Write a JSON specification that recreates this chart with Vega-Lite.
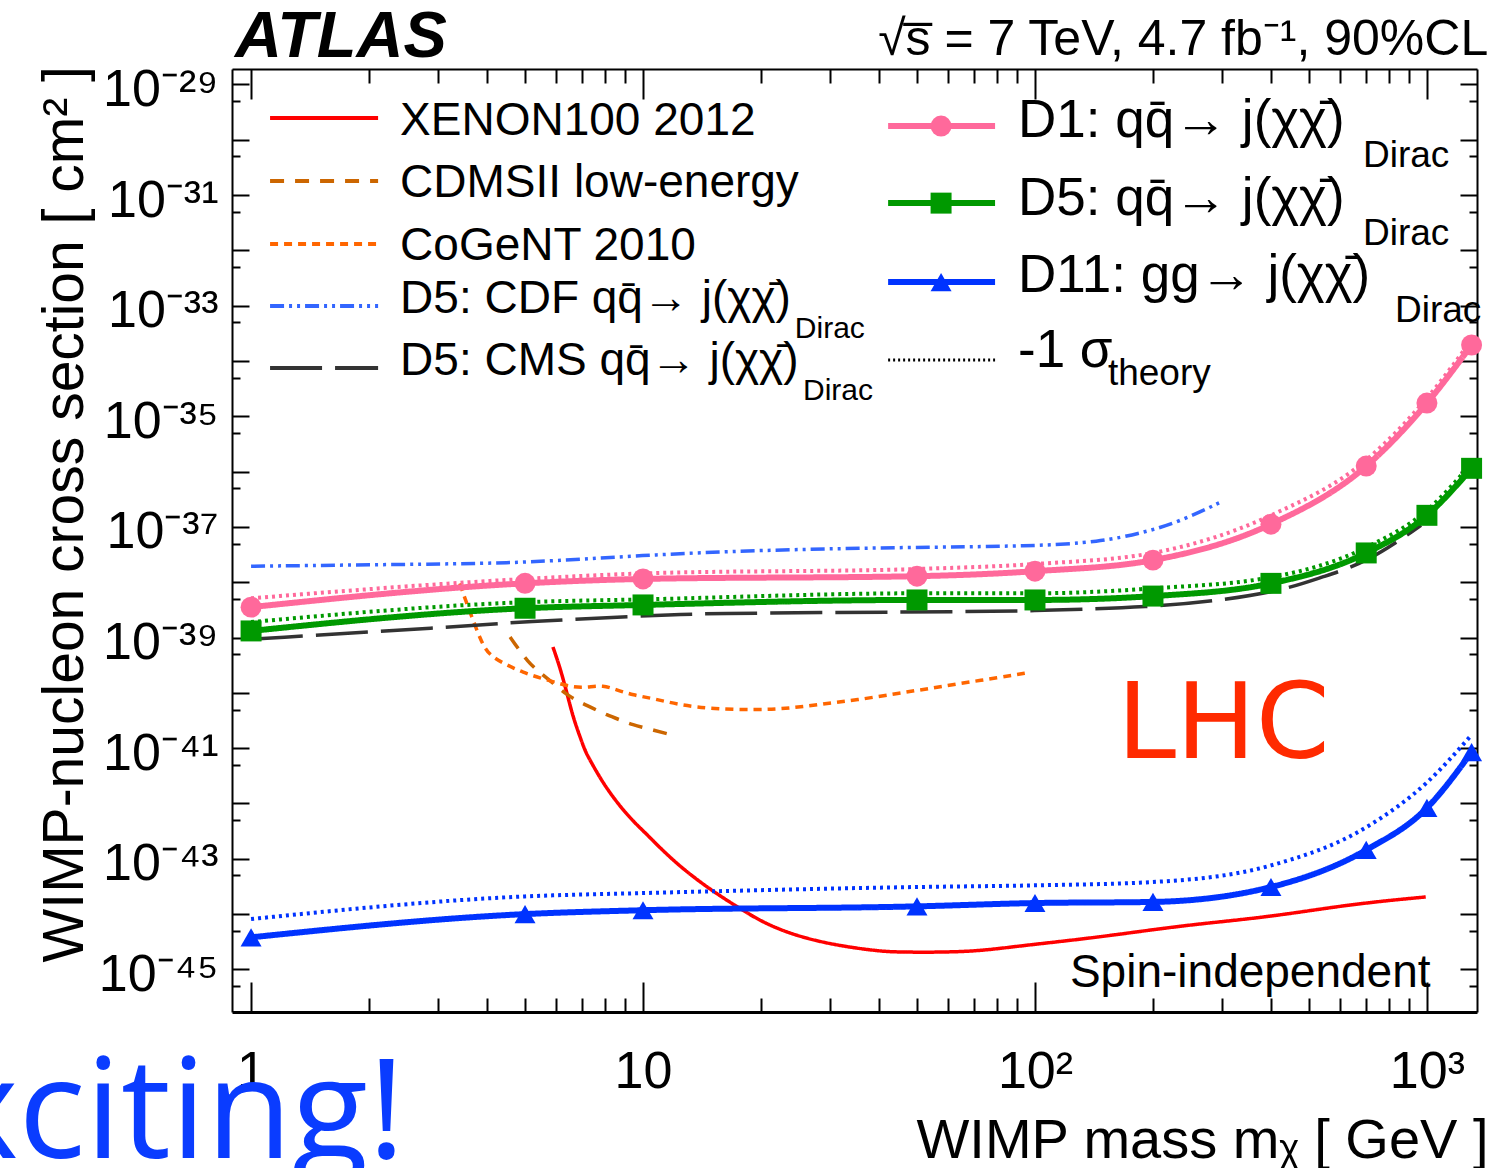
{
"$schema": "https://vega.github.io/schema/vega-lite/v6.json",
"width": 1245,
"height": 943,
"autosize": {"type": "none"},
"padding": {"left": 232, "top": 69, "right": 27, "bottom": 156},
"background": "white",
"config": {"view": {"stroke": null}, "text": {"font": "Liberation Sans"}},
"datasets": {
"curves": [
{"series": "XENON100 2012", "kind": "ext", "m": 5.89, "s": 6.76e-40},
{"series": "XENON100 2012", "kind": "ext", "m": 6.14, "s": 2.884e-40},
{"series": "XENON100 2012", "kind": "ext", "m": 6.40, "s": 9.77e-41},
{"series": "XENON100 2012", "kind": "ext", "m": 6.63, "s": 3.631e-41},
{"series": "XENON100 2012", "kind": "ext", "m": 6.91, "s": 1.585e-41},
{"series": "XENON100 2012", "kind": "ext", "m": 7.11, "s": 9.12e-42},
{"series": "XENON100 2012", "kind": "ext", "m": 7.25, "s": 6.92e-42},
{"series": "XENON100 2012", "kind": "ext", "m": 7.77, "s": 2.88e-42},
{"series": "XENON100 2012", "kind": "ext", "m": 8.24, "s": 1.549e-42},
{"series": "XENON100 2012", "kind": "ext", "m": 8.74, "s": 8.91e-43},
{"series": "XENON100 2012", "kind": "ext", "m": 9.43, "s": 4.79e-43},
{"series": "XENON100 2012", "kind": "ext", "m": 10.2, "s": 2.82e-43},
{"series": "XENON100 2012", "kind": "ext", "m": 11.9, "s": 9.33e-44},
{"series": "XENON100 2012", "kind": "ext", "m": 14.3, "s": 3.31e-44},
{"series": "XENON100 2012", "kind": "ext", "m": 17.3, "s": 1.38e-44},
{"series": "XENON100 2012", "kind": "ext", "m": 20.2, "s": 7.08e-45},
{"series": "XENON100 2012", "kind": "ext", "m": 24.2, "s": 4.17e-45},
{"series": "XENON100 2012", "kind": "ext", "m": 30.7, "s": 2.754e-45},
{"series": "XENON100 2012", "kind": "ext", "m": 39.9, "s": 2.138e-45},
{"series": "XENON100 2012", "kind": "ext", "m": 45, "s": 2.042e-45},
{"series": "XENON100 2012", "kind": "ext", "m": 68.6, "s": 2.042e-45},
{"series": "XENON100 2012", "kind": "ext", "m": 89.7, "s": 2.63e-45},
{"series": "XENON100 2012", "kind": "ext", "m": 146, "s": 3.802e-45},
{"series": "XENON100 2012", "kind": "ext", "m": 239, "s": 6.31e-45},
{"series": "XENON100 2012", "kind": "ext", "m": 392, "s": 8.71e-45},
{"series": "XENON100 2012", "kind": "ext", "m": 638, "s": 1.514e-44},
{"series": "XENON100 2012", "kind": "ext", "m": 993, "s": 2.042e-44},
{"series": "CDMSII low-energy", "kind": "ext", "m": 4.58, "s": 1.023e-39},
{"series": "CDMSII low-energy", "kind": "ext", "m": 4.77, "s": 6.76e-40},
{"series": "CDMSII low-energy", "kind": "ext", "m": 5.09, "s": 3.631e-40},
{"series": "CDMSII low-energy", "kind": "ext", "m": 5.37, "s": 2.57e-40},
{"series": "CDMSII low-energy", "kind": "ext", "m": 5.86, "s": 1.549e-40},
{"series": "CDMSII low-energy", "kind": "ext", "m": 6.40, "s": 9.12e-41},
{"series": "CDMSII low-energy", "kind": "ext", "m": 6.91, "s": 6.76e-41},
{"series": "CDMSII low-energy", "kind": "ext", "m": 7.45, "s": 5.25e-41},
{"series": "CDMSII low-energy", "kind": "ext", "m": 8.09, "s": 3.98e-41},
{"series": "CDMSII low-energy", "kind": "ext", "m": 8.74, "s": 3.236e-41},
{"series": "CDMSII low-energy", "kind": "ext", "m": 9.43, "s": 2.63e-41},
{"series": "CDMSII low-energy", "kind": "ext", "m": 10.2, "s": 2.291e-41},
{"series": "CDMSII low-energy", "kind": "ext", "m": 11.7, "s": 1.778e-41},
{"series": "CoGeNT 2010", "kind": "ext", "m": 3.41, "s": 9.55e-39},
{"series": "CoGeNT 2010", "kind": "ext", "m": 3.51, "s": 5.13e-39},
{"series": "CoGeNT 2010", "kind": "ext", "m": 3.66, "s": 2.344e-39},
{"series": "CoGeNT 2010", "kind": "ext", "m": 3.91, "s": 6.76e-40},
{"series": "CoGeNT 2010", "kind": "ext", "m": 4.12, "s": 4.467e-40},
{"series": "CoGeNT 2010", "kind": "ext", "m": 4.50, "s": 3.162e-40},
{"series": "CoGeNT 2010", "kind": "ext", "m": 4.94, "s": 2.344e-40},
{"series": "CoGeNT 2010", "kind": "ext", "m": 5.46, "s": 1.862e-40},
{"series": "CoGeNT 2010", "kind": "ext", "m": 6.04, "s": 1.514e-40},
{"series": "CoGeNT 2010", "kind": "ext", "m": 6.63, "s": 1.259e-40},
{"series": "CoGeNT 2010", "kind": "ext", "m": 7.20, "s": 1.259e-40},
{"series": "CoGeNT 2010", "kind": "ext", "m": 7.91, "s": 1.38e-40},
{"series": "CoGeNT 2010", "kind": "ext", "m": 8.59, "s": 1.122e-40},
{"series": "CoGeNT 2010", "kind": "ext", "m": 9.43, "s": 9.12e-41},
{"series": "CoGeNT 2010", "kind": "ext", "m": 10.6, "s": 7.94e-41},
{"series": "CoGeNT 2010", "kind": "ext", "m": 12.4, "s": 6.03e-41},
{"series": "CoGeNT 2010", "kind": "ext", "m": 15.1, "s": 5.13e-41},
{"series": "CoGeNT 2010", "kind": "ext", "m": 19.5, "s": 4.9e-41},
{"series": "CoGeNT 2010", "kind": "ext", "m": 23.7, "s": 5.25e-41},
{"series": "CoGeNT 2010", "kind": "ext", "m": 28.8, "s": 6.31e-41},
{"series": "CoGeNT 2010", "kind": "ext", "m": 35.1, "s": 7.41e-41},
{"series": "CoGeNT 2010", "kind": "ext", "m": 44.5, "s": 9.77e-41},
{"series": "CoGeNT 2010", "kind": "ext", "m": 54.0, "s": 1.202e-40},
{"series": "CoGeNT 2010", "kind": "ext", "m": 65.5, "s": 1.514e-40},
{"series": "CoGeNT 2010", "kind": "ext", "m": 80.0, "s": 1.862e-40},
{"series": "CoGeNT 2010", "kind": "ext", "m": 97.1, "s": 2.344e-40},
{"series": "D5 CDF", "kind": "ext", "m": 1, "s": 1.95e-38},
{"series": "D5 CDF", "kind": "ext", "m": 3, "s": 2.138e-38},
{"series": "D5 CDF", "kind": "ext", "m": 5, "s": 2.239e-38},
{"series": "D5 CDF", "kind": "ext", "m": 10, "s": 3.09e-38},
{"series": "D5 CDF", "kind": "ext", "m": 19.6, "s": 3.8e-38},
{"series": "D5 CDF", "kind": "ext", "m": 45, "s": 4.266e-38},
{"series": "D5 CDF", "kind": "ext", "m": 100, "s": 4.467e-38},
{"series": "D5 CDF", "kind": "ext", "m": 146.5, "s": 5.37e-38},
{"series": "D5 CDF", "kind": "ext", "m": 187.5, "s": 7.762e-38},
{"series": "D5 CDF", "kind": "ext", "m": 233, "s": 1.23e-37},
{"series": "D5 CDF", "kind": "ext", "m": 298, "s": 2.818e-37},
{"series": "D5 CMS", "kind": "ext", "m": 1, "s": 9.33e-40},
{"series": "D5 CMS", "kind": "ext", "m": 3.25, "s": 1.549e-39},
{"series": "D5 CMS", "kind": "ext", "m": 5, "s": 1.95e-39},
{"series": "D5 CMS", "kind": "ext", "m": 10, "s": 2.455e-39},
{"series": "D5 CMS", "kind": "ext", "m": 14, "s": 2.754e-39},
{"series": "D5 CMS", "kind": "ext", "m": 50, "s": 2.884e-39},
{"series": "D5 CMS", "kind": "ext", "m": 100, "s": 3.02e-39},
{"series": "D5 CMS", "kind": "ext", "m": 200, "s": 3.548e-39},
{"series": "D5 CMS", "kind": "ext", "m": 305, "s": 4.786e-39},
{"series": "D5 CMS", "kind": "ext", "m": 432, "s": 7.244e-39},
{"series": "D5 CMS", "kind": "ext", "m": 537, "s": 1.23e-38},
{"series": "D5 CMS", "kind": "ext", "m": 706, "s": 2.291e-38},
{"series": "D5 CMS", "kind": "ext", "m": 966, "s": 1.072e-37},
{"series": "D1", "kind": "atlas", "m": 1, "s": 3.55e-39},
{"series": "D1", "kind": "atlas", "m": 5, "s": 9.55e-39},
{"series": "D1", "kind": "atlas", "m": 10, "s": 1.148e-38},
{"series": "D1", "kind": "atlas", "m": 50, "s": 1.288e-38},
{"series": "D1", "kind": "atlas", "m": 100, "s": 1.585e-38},
{"series": "D1", "kind": "atlas", "m": 200, "s": 2.512e-38},
{"series": "D1", "kind": "atlas", "m": 400, "s": 1.122e-37},
{"series": "D1", "kind": "atlas", "m": 700, "s": 1.259e-36},
{"series": "D1", "kind": "atlas", "m": 1000, "s": 1.738e-35},
{"series": "D1", "kind": "atlas", "m": 1300, "s": 1.95e-34},
{"series": "D1 -1σ", "kind": "theory", "m": 1, "s": 5.13e-39},
{"series": "D1 -1σ", "kind": "theory", "m": 5, "s": 1.148e-38},
{"series": "D1 -1σ", "kind": "theory", "m": 10, "s": 1.445e-38},
{"series": "D1 -1σ", "kind": "theory", "m": 50, "s": 1.738e-38},
{"series": "D1 -1σ", "kind": "theory", "m": 100, "s": 2.138e-38},
{"series": "D1 -1σ", "kind": "theory", "m": 200, "s": 3.388e-38},
{"series": "D1 -1σ", "kind": "theory", "m": 400, "s": 1.622e-37},
{"series": "D1 -1σ", "kind": "theory", "m": 700, "s": 1.622e-36},
{"series": "D1 -1σ", "kind": "theory", "m": 1000, "s": 2.138e-35},
{"series": "D1 -1σ", "kind": "theory", "m": 1300, "s": 2.399e-34},
{"series": "D5", "kind": "atlas", "m": 1, "s": 1.318e-39},
{"series": "D5", "kind": "atlas", "m": 5, "s": 3.388e-39},
{"series": "D5", "kind": "atlas", "m": 10, "s": 3.89e-39},
{"series": "D5", "kind": "atlas", "m": 50, "s": 4.786e-39},
{"series": "D5", "kind": "atlas", "m": 100, "s": 4.786e-39},
{"series": "D5", "kind": "atlas", "m": 200, "s": 5.623e-39},
{"series": "D5", "kind": "atlas", "m": 400, "s": 9.55e-39},
{"series": "D5", "kind": "atlas", "m": 700, "s": 3.388e-38},
{"series": "D5", "kind": "atlas", "m": 1000, "s": 1.622e-37},
{"series": "D5", "kind": "atlas", "m": 1300, "s": 1.148e-36},
{"series": "D5 -1σ", "kind": "theory", "m": 1, "s": 1.905e-39},
{"series": "D5 -1σ", "kind": "theory", "m": 5, "s": 4.365e-39},
{"series": "D5 -1σ", "kind": "theory", "m": 10, "s": 4.898e-39},
{"series": "D5 -1σ", "kind": "theory", "m": 50, "s": 6.31e-39},
{"series": "D5 -1σ", "kind": "theory", "m": 100, "s": 6.31e-39},
{"series": "D5 -1σ", "kind": "theory", "m": 200, "s": 7.762e-39},
{"series": "D5 -1σ", "kind": "theory", "m": 400, "s": 1.23e-38},
{"series": "D5 -1σ", "kind": "theory", "m": 700, "s": 4.266e-38},
{"series": "D5 -1σ", "kind": "theory", "m": 1000, "s": 1.995e-37},
{"series": "D5 -1σ", "kind": "theory", "m": 1300, "s": 1.413e-36},
{"series": "D11", "kind": "atlas", "m": 1, "s": 3.8e-45},
{"series": "D11", "kind": "atlas", "m": 5, "s": 1.0e-44},
{"series": "D11", "kind": "atlas", "m": 10, "s": 1.175e-44},
{"series": "D11", "kind": "atlas", "m": 50, "s": 1.38e-44},
{"series": "D11", "kind": "atlas", "m": 100, "s": 1.585e-44},
{"series": "D11", "kind": "atlas", "m": 200, "s": 1.66e-44},
{"series": "D11", "kind": "atlas", "m": 400, "s": 3.09e-44},
{"series": "D11", "kind": "atlas", "m": 700, "s": 1.445e-43},
{"series": "D11", "kind": "atlas", "m": 1000, "s": 8.318e-43},
{"series": "D11", "kind": "atlas", "m": 1300, "s": 8.511e-42},
{"series": "D11 -1σ", "kind": "theory", "m": 1, "s": 8.128e-45},
{"series": "D11 -1σ", "kind": "theory", "m": 5, "s": 2.089e-44},
{"series": "D11 -1σ", "kind": "theory", "m": 10, "s": 2.399e-44},
{"series": "D11 -1σ", "kind": "theory", "m": 50, "s": 3.09e-44},
{"series": "D11 -1σ", "kind": "theory", "m": 100, "s": 3.311e-44},
{"series": "D11 -1σ", "kind": "theory", "m": 200, "s": 3.802e-44},
{"series": "D11 -1σ", "kind": "theory", "m": 400, "s": 7.586e-44},
{"series": "D11 -1σ", "kind": "theory", "m": 700, "s": 3.715e-43},
{"series": "D11 -1σ", "kind": "theory", "m": 1000, "s": 2.399e-42},
{"series": "D11 -1σ", "kind": "theory", "m": 1300, "s": 1.738e-41}
],
"legend": [
{"series": "XENON100 2012", "col": "L", "label": "XENON100 2012", "sub": "", "m1": 1.118, "m2": 2.109, "mc": 1.54, "ml": 2.40, "s": 2.466e-30, "sl": 1.216e-30, "msub": 1, "ssub": 1e-30},
{"series": "CDMSII low-energy", "col": "L", "label": "CDMSII low-energy", "sub": "", "m1": 1.118, "m2": 2.109, "mc": 1.54, "ml": 2.40, "s": 1.79e-31, "sl": 9.2e-32, "msub": 1, "ssub": 1e-31},
{"series": "CoGeNT 2010", "col": "L", "label": "CoGeNT 2010", "sub": "", "m1": 1.118, "m2": 2.109, "mc": 1.54, "ml": 2.40, "s": 1.3e-32, "sl": 6.68e-33, "msub": 1, "ssub": 1e-32},
{"series": "D5 CDF", "col": "L", "label": "D5: CDF qq̄→ j(χχ̄)", "sub": "Dirac", "m1": 1.118, "m2": 2.109, "mc": 1.54, "ml": 2.40, "s": 9.84e-34, "sl": 7.34e-34, "msub": 24.4, "ssub": 2.594e-34},
{"series": "D5 CMS", "col": "L", "label": "D5: CMS qq̄→ j(χχ̄)", "sub": "Dirac", "m1": 1.118, "m2": 2.109, "mc": 1.54, "ml": 2.40, "s": 7.45e-35, "sl": 5.56e-35, "msub": 25.6, "ssub": 1.963e-35},
{"series": "D1", "col": "R", "label": "D1: qq̄→ j(χχ̄)", "sub": "Dirac", "m1": 42.2, "m2": 79.1, "mc": 57.6, "ml": 90.5, "s": 1.77e-30, "sl": 1.119e-30, "msub": 687, "ssub": 3.21e-31},
{"series": "D5", "col": "R", "label": "D5: qq̄→ j(χχ̄)", "sub": "Dirac", "m1": 42.2, "m2": 79.1, "mc": 57.6, "ml": 90.5, "s": 7.16e-32, "sl": 4.35e-32, "msub": 687, "ssub": 1.247e-32},
{"series": "D11", "col": "R", "label": "D11: gg→ j(χχ̄)", "sub": "Dirac", "m1": 42.2, "m2": 79.1, "mc": 57.6, "ml": 90.5, "s": 2.67e-33, "sl": 1.762e-33, "msub": 829, "ssub": 5.05e-34},
{"series": "-1σ theory", "col": "R", "label": "-1 σ", "sub": "theory", "m1": 42.2, "m2": 79.1, "mc": 57.6, "ml": 90.5, "s": 1.04e-34, "sl": 7.76e-35, "msub": 153.5, "ssub": 3.66e-35}
],
"notes": [
{"text": "ATLAS", "m": 0.91, "s": 3.126e-29},
{"text": "√s̅ = 7 TeV, 4.7 fb⁻¹, 90%CL", "m": 39.8, "s": 3.4e-29},
{"text": "LHC", "m": 161.9, "s": 6.59e-42},
{"text": "Spin-independent", "m": 122.8, "s": 4.76e-46},
{"text": "Exciting!", "m": 2.47, "s": 3.86e-49}
]
},
"resolve": {"axis": {"x": "independent", "y": "independent"}},
"layer": [
{
"data": {"name": "curves"},
"transform": [{"filter": "datum.kind == 'ext'"}],
"mark": {"type": "line", "strokeWidth": 3.5, "interpolate": "basis", "strokeCap": "butt"},
"encoding": {
"x": {"field": "m", "type": "quantitative", "scale": {"type": "log", "domain": [0.894, 1342], "nice": false},
"axis": {"orient": "bottom", "values": [1,2,3,4,5,6,7,8,9,10,20,30,40,50,60,70,80,90,100,200,300,400,500,600,700,800,900,1000],
"labelExpr": "datum.value == 1 ? '1' : datum.value == 10 ? '10' : datum.value == 100 ? '10²' : datum.value == 1000 ? '10³' : ''",
"tickSize": {"condition": {"test": "indexof([1,10,100,1000], datum.value) >= 0", "value": -30}, "value": -14},
"tickWidth": 2, "tickColor": "black", "domainColor": "black", "domainWidth": 3, "grid": false,
"labelFont": "Liberation Sans", "labelFontSize": 52, "labelColor": "black", "labelPadding": 64,
"labelOverlap": false, "labelFlush": false, "labelBound": false,
"title": "WIMP mass mᵪ [ GeV ]", "titleFont": "Liberation Sans", "titleFontSize": 56, "titleFontWeight": "normal", "titleColor": "black",
"titleAlign": "right", "titleAnchor": "end", "titleX": 1256, "titleY": 145, "titleBaseline": "alphabetic"}},
"y": {"field": "s", "type": "quantitative", "scale": {"type": "log", "domain": [1.698e-46, 1.905e-29], "nice": false},
"axis": {"orient": "left", "values": [1e-45,1e-44,1e-43,1e-42,1e-41,1e-40,1e-39,1e-38,1e-37,1e-36,1e-35,1e-34,1e-33,1e-32,1e-31,1e-30,1e-29,5e-46,5e-45,5e-44,5e-43,5e-42,5e-41,5e-40,5e-39,5e-38,5e-37,5e-36,5e-35,5e-34,5e-33,5e-32,5e-31,5e-30],
"labelExpr": "abs(log(datum.value)/LN10 - round(log(datum.value)/LN10)) > 0.01 ? '' : round(log(datum.value)/LN10) == -29 ? '10⁻²⁹' : round(log(datum.value)/LN10) == -31 ? '10⁻³¹' : round(log(datum.value)/LN10) == -33 ? '10⁻³³' : round(log(datum.value)/LN10) == -35 ? '10⁻³⁵' : round(log(datum.value)/LN10) == -37 ? '10⁻³⁷' : round(log(datum.value)/LN10) == -39 ? '10⁻³⁹' : round(log(datum.value)/LN10) == -41 ? '10⁻⁴¹' : round(log(datum.value)/LN10) == -43 ? '10⁻⁴³' : round(log(datum.value)/LN10) == -45 ? '10⁻⁴⁵' : ''",
"tickSize": {"condition": {"test": "abs(log(datum.value)/LN10 - round(log(datum.value)/LN10)) < 0.01", "value": -17}, "value": -8},
"tickWidth": 2, "tickColor": "black", "domainColor": "black", "domainWidth": 2, "grid": false,
"labelFont": "Liberation Sans", "labelFontSize": 52, "labelColor": "black", "labelPadding": 31, "labelOffset": 5,
"labelOverlap": false, "labelFlush": false, "labelBound": false,
"title": "WIMP-nucleon cross section [ cm² ]", "titleFont": "Liberation Sans", "titleFontSize": 57, "titleFontWeight": "normal", "titleColor": "black",
"titleAngle": 270, "titleAlign": "left", "titleBaseline": "alphabetic", "titleX": -150, "titleY": 893}},
"color": {"field": "series", "type": "nominal", "legend": null, "scale": {"domain": ["XENON100 2012","CDMSII low-energy","CoGeNT 2010","D5 CDF","D5 CMS","D1","D5","D11","D1 -1σ","D5 -1σ","D11 -1σ","-1σ theory"], "range": ["#ff0000","#cc6600","#ff6600","#3366ff","#333333","#ff699b","#009900","#0033ff","#ff699b","#009900","#0033ff","#000000"]}},
"strokeDash": {"field": "series", "type": "nominal", "legend": null, "scale": {"domain": ["XENON100 2012","CDMSII low-energy","CoGeNT 2010","D5 CDF","D5 CMS","D1","D5","D11","D1 -1σ","D5 -1σ","D11 -1σ","-1σ theory"], "range": [[1,0],[14,11],[8,6],[14,5,3,5,3,5],[52,13],[1,0],[1,0],[1,0],[3,4],[3,4],[3,4],[2,3]]}}
}
},
{
"data": {"name": "curves"},
"transform": [{"filter": "datum.kind == 'theory'"}],
"mark": {"type": "line", "strokeWidth": 4, "interpolate": "monotone", "strokeCap": "butt"},
"encoding": {
"x": {"field": "m", "type": "quantitative", "scale": {"type": "log", "domain": [0.894, 1342], "nice": false},
"axis": {"orient": "top", "values": [1,2,3,4,5,6,7,8,9,10,20,30,40,50,60,70,80,90,100,200,300,400,500,600,700,800,900,1000], "labels": false,
"tickSize": {"condition": {"test": "indexof([1,10,100,1000], datum.value) >= 0", "value": -30}, "value": -14},
"tickWidth": 2, "tickColor": "black", "domainColor": "black", "domainWidth": 2, "grid": false, "title": null}},
"y": {"field": "s", "type": "quantitative", "scale": {"type": "log", "domain": [1.698e-46, 1.905e-29], "nice": false},
"axis": {"orient": "right", "values": [1e-45,1e-44,1e-43,1e-42,1e-41,1e-40,1e-39,1e-38,1e-37,1e-36,1e-35,1e-34,1e-33,1e-32,1e-31,1e-30,1e-29,5e-46,5e-45,5e-44,5e-43,5e-42,5e-41,5e-40,5e-39,5e-38,5e-37,5e-36,5e-35,5e-34,5e-33,5e-32,5e-31,5e-30], "labels": false,
"tickSize": {"condition": {"test": "abs(log(datum.value)/LN10 - round(log(datum.value)/LN10)) < 0.01", "value": -17}, "value": -8},
"tickWidth": 2, "tickColor": "black", "domainColor": "black", "domainWidth": 2, "grid": false, "title": null}},
"color": {"field": "series", "type": "nominal", "legend": null},
"strokeDash": {"field": "series", "type": "nominal", "legend": null}
}
},
{
"data": {"name": "curves"},
"transform": [{"filter": "datum.kind == 'atlas'"}],
"mark": {"type": "line", "strokeWidth": 6, "interpolate": "monotone"},
"encoding": {
"x": {"field": "m", "type": "quantitative", "axis": null},
"y": {"field": "s", "type": "quantitative", "axis": null},
"color": {"field": "series", "type": "nominal", "legend": null},
"strokeDash": {"field": "series", "type": "nominal", "legend": null}
}
},
{
"data": {"name": "curves"},
"transform": [{"filter": "datum.kind == 'atlas'"}],
"mark": {"type": "point", "filled": true, "size": 440, "opacity": 1},
"encoding": {
"x": {"field": "m", "type": "quantitative", "axis": null},
"y": {"field": "s", "type": "quantitative", "axis": null},
"color": {"field": "series", "type": "nominal", "legend": null},
"shape": {"field": "series", "type": "nominal", "legend": null, "scale": {"domain": ["D1","D5","D11"], "range": ["circle","square","triangle-up"]}}
}
},
{
"data": {"name": "legend"},
"transform": [{"filter": "datum.col == 'L'"}],
"mark": {"type": "rule", "strokeWidth": 4, "strokeCap": "butt"},
"encoding": {
"x": {"field": "m1", "type": "quantitative", "axis": null},
"x2": {"field": "m2"},
"y": {"field": "s", "type": "quantitative", "axis": null},
"color": {"field": "series", "type": "nominal", "legend": null},
"strokeDash": {"field": "series", "type": "nominal", "legend": null}
}
},
{
"data": {"name": "legend"},
"transform": [{"filter": "datum.col == 'R' && datum.series != '-1σ theory'"}],
"mark": {"type": "rule", "strokeWidth": 6, "strokeCap": "butt"},
"encoding": {
"x": {"field": "m1", "type": "quantitative", "axis": null},
"x2": {"field": "m2"},
"y": {"field": "s", "type": "quantitative", "axis": null},
"color": {"field": "series", "type": "nominal", "legend": null}
}
},
{
"data": {"name": "legend"},
"transform": [{"filter": "datum.series == '-1σ theory'"}],
"mark": {"type": "rule", "strokeWidth": 3, "strokeCap": "butt"},
"encoding": {
"x": {"field": "m1", "type": "quantitative", "axis": null},
"x2": {"field": "m2"},
"y": {"field": "s", "type": "quantitative", "axis": null},
"color": {"field": "series", "type": "nominal", "legend": null},
"strokeDash": {"field": "series", "type": "nominal", "legend": null}
}
},
{
"data": {"name": "legend"},
"transform": [{"filter": "datum.col == 'R' && datum.series != '-1σ theory'"}],
"mark": {"type": "point", "filled": true, "size": 440, "opacity": 1},
"encoding": {
"x": {"field": "mc", "type": "quantitative", "axis": null},
"y": {"field": "s", "type": "quantitative", "axis": null},
"color": {"field": "series", "type": "nominal", "legend": null},
"shape": {"field": "series", "type": "nominal", "legend": null}
}
},
{
"data": {"name": "legend"},
"transform": [{"filter": "datum.col == 'L'"}],
"mark": {"type": "text", "font": "Liberation Sans", "fontSize": 46, "align": "left", "baseline": "alphabetic", "color": "black"},
"encoding": {
"x": {"field": "ml", "type": "quantitative", "axis": null},
"y": {"field": "sl", "type": "quantitative", "axis": null},
"text": {"field": "label"}
}
},
{
"data": {"name": "legend"},
"transform": [{"filter": "datum.col == 'R'"}],
"mark": {"type": "text", "font": "Liberation Sans", "fontSize": 53, "align": "left", "baseline": "alphabetic", "color": "black"},
"encoding": {
"x": {"field": "ml", "type": "quantitative", "axis": null},
"y": {"field": "sl", "type": "quantitative", "axis": null},
"text": {"field": "label"}
}
},
{
"data": {"name": "legend"},
"transform": [{"filter": "datum.col == 'L' && datum.sub != ''"}],
"mark": {"type": "text", "font": "Liberation Sans", "fontSize": 30, "align": "left", "baseline": "alphabetic", "color": "black"},
"encoding": {
"x": {"field": "msub", "type": "quantitative", "axis": null},
"y": {"field": "ssub", "type": "quantitative", "axis": null},
"text": {"field": "sub"}
}
},
{
"data": {"name": "legend"},
"transform": [{"filter": "datum.col == 'R' && datum.sub != ''"}],
"mark": {"type": "text", "font": "Liberation Sans", "fontSize": 37, "align": "left", "baseline": "alphabetic", "color": "black"},
"encoding": {
"x": {"field": "msub", "type": "quantitative", "axis": null},
"y": {"field": "ssub", "type": "quantitative", "axis": null},
"text": {"field": "sub"}
}
},
{
"data": {"name": "notes"},
"transform": [{"filter": "datum.text == 'ATLAS'"}],
"mark": {"type": "text", "font": "Liberation Sans", "fontSize": 65, "fontWeight": "bold", "fontStyle": "italic", "align": "left", "baseline": "alphabetic", "color": "black"},
"encoding": {
"x": {"field": "m", "type": "quantitative", "axis": null},
"y": {"field": "s", "type": "quantitative", "axis": null},
"text": {"field": "text"}
}
},
{
"data": {"name": "notes"},
"transform": [{"filter": "indexof(datum.text, 'TeV') >= 0"}],
"mark": {"type": "text", "font": "Liberation Sans", "fontSize": 50, "align": "left", "baseline": "alphabetic", "color": "black"},
"encoding": {
"x": {"field": "m", "type": "quantitative", "axis": null},
"y": {"field": "s", "type": "quantitative", "axis": null},
"text": {"field": "text"}
}
},
{
"data": {"name": "notes"},
"transform": [{"filter": "datum.text == 'LHC'"}],
"mark": {"type": "text", "font": "DejaVu Sans", "fontSize": 106, "align": "left", "baseline": "alphabetic", "color": "#ff2a00"},
"encoding": {
"x": {"field": "m", "type": "quantitative", "axis": null},
"y": {"field": "s", "type": "quantitative", "axis": null},
"text": {"field": "text"}
}
},
{
"data": {"name": "notes"},
"transform": [{"filter": "datum.text == 'Spin-independent'"}],
"mark": {"type": "text", "font": "Liberation Sans", "fontSize": 46, "align": "left", "baseline": "alphabetic", "color": "black"},
"encoding": {
"x": {"field": "m", "type": "quantitative", "axis": null},
"y": {"field": "s", "type": "quantitative", "axis": null},
"text": {"field": "text"}
}
},
{
"data": {"name": "notes"},
"transform": [{"filter": "datum.text == 'Exciting!'"}],
"mark": {"type": "text", "font": "Open Sans", "fontSize": 140, "align": "right", "baseline": "alphabetic", "color": "#0a3cff"},
"encoding": {
"x": {"field": "m", "type": "quantitative", "axis": null},
"y": {"field": "s", "type": "quantitative", "axis": null},
"text": {"field": "text"}
}
}
]
}
